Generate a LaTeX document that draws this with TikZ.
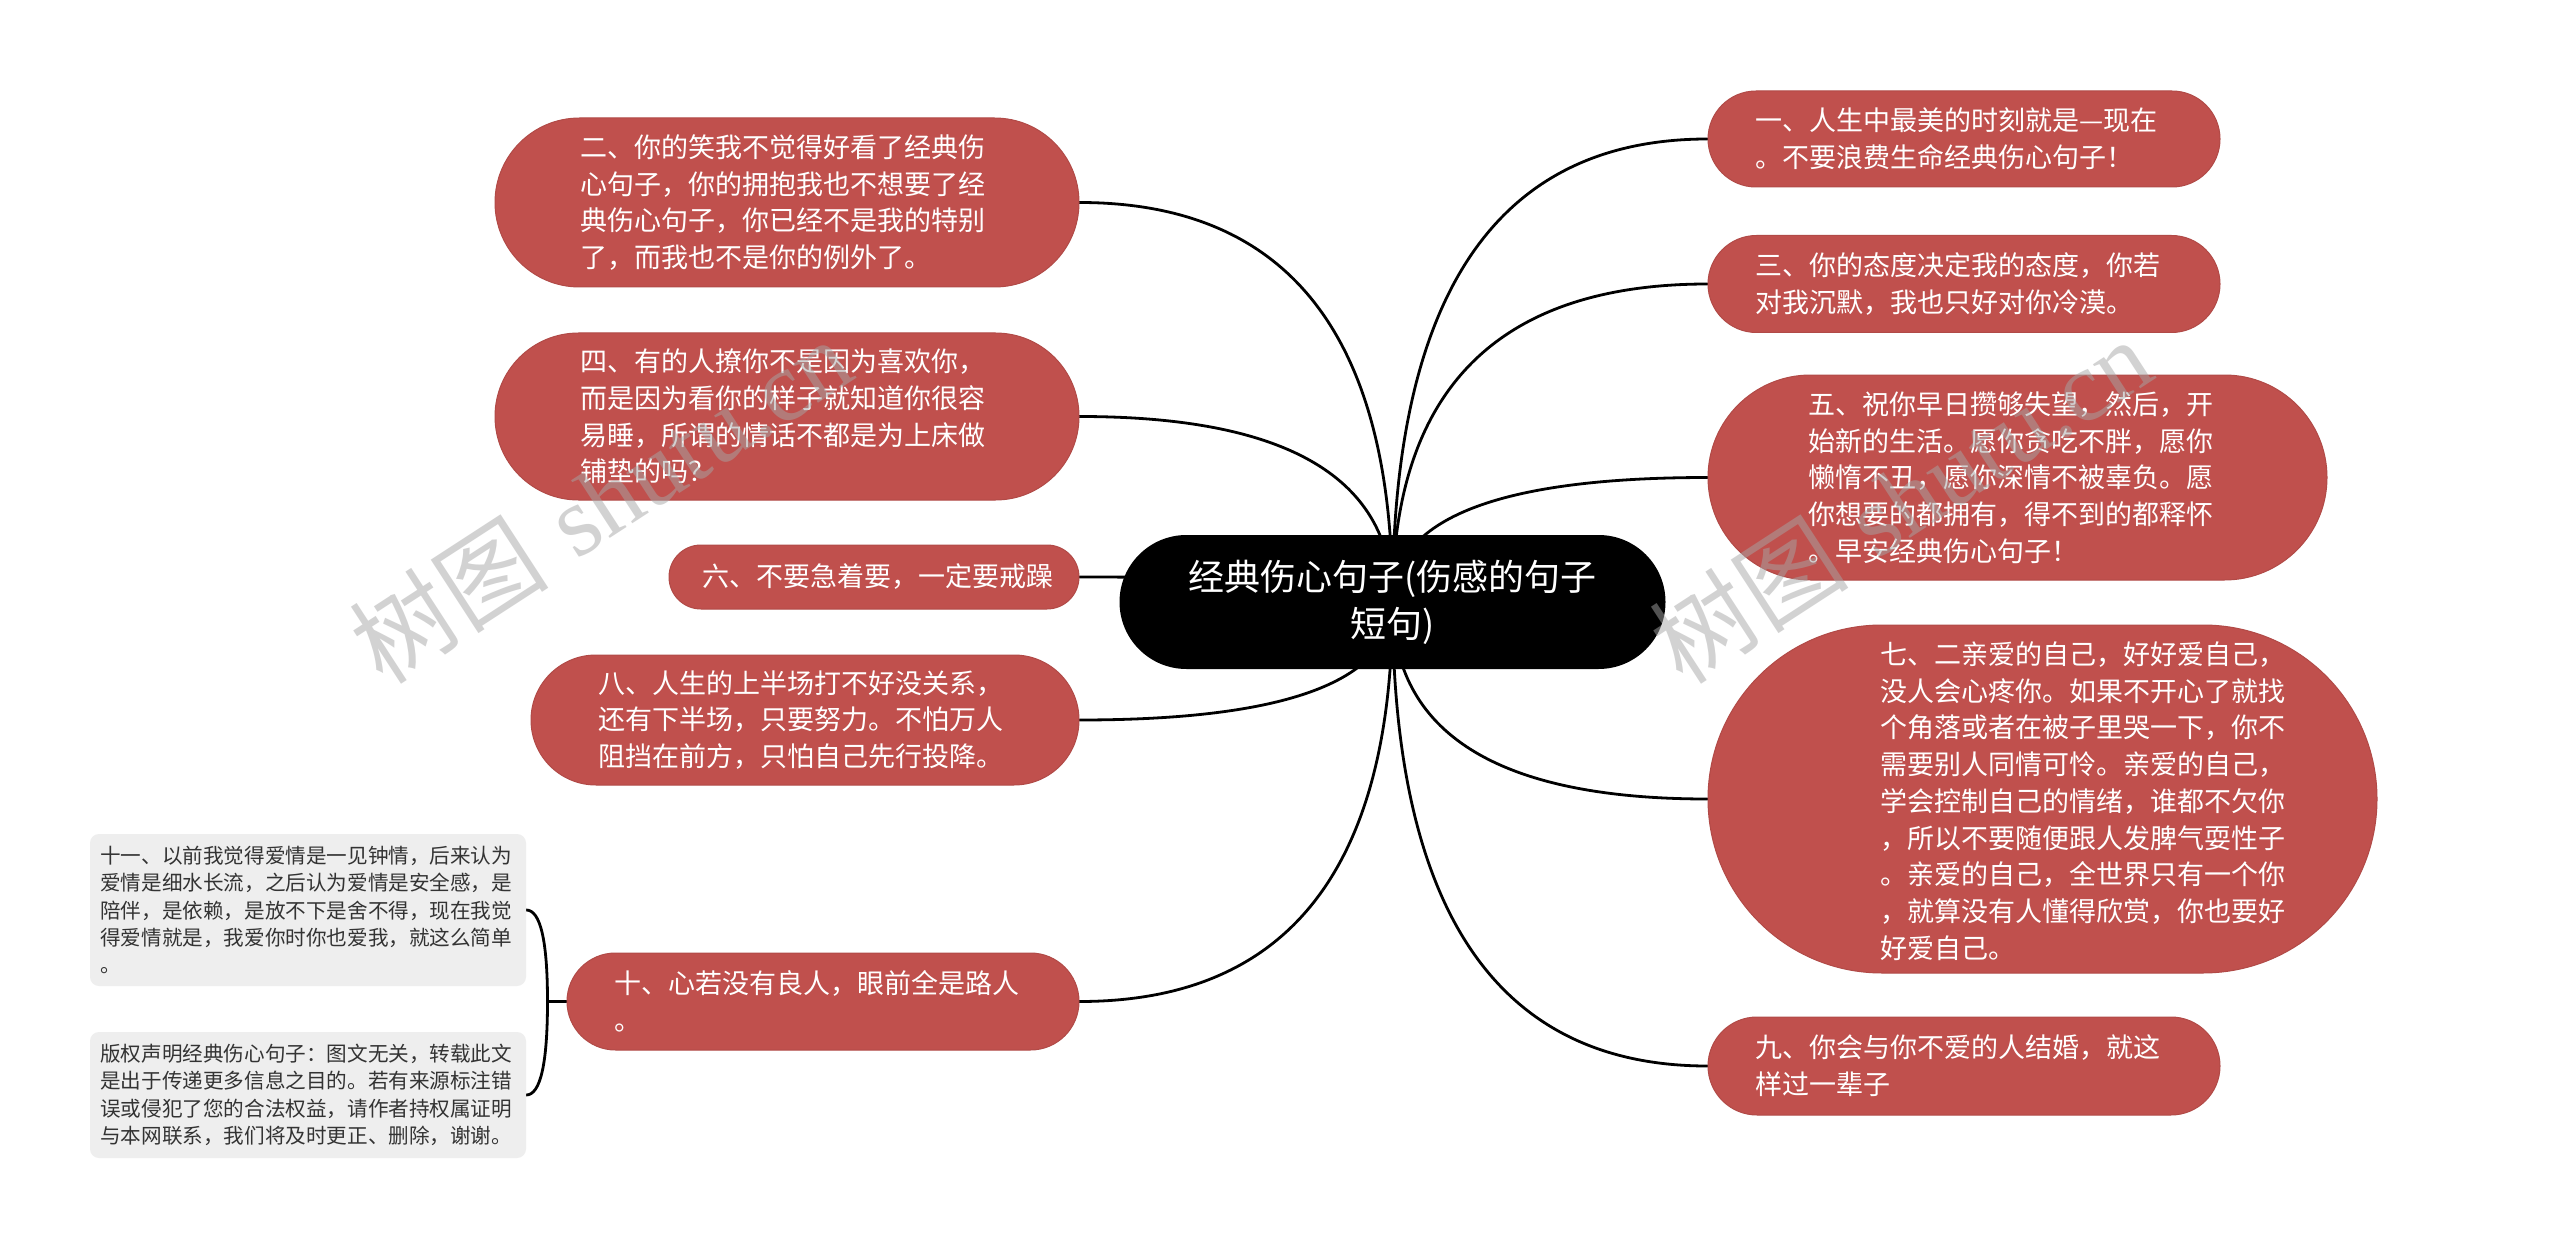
\documentclass[tikz,border=0pt]{standalone}
\usepackage{fontspec}
\newfontfamily\cjk{Noto Sans CJK SC}
\newfontfamily\wmserif{Liberation Serif}
\usetikzlibrary{shapes.misc,calc}
\definecolor{nodered}{HTML}{C0504D}
\definecolor{greybox}{HTML}{EEEEEE}
\definecolor{greytext}{HTML}{333333}
\pgfdeclarelayer{bg}
\pgfdeclarelayer{wm}
\pgfsetlayers{bg,main,wm}
\newcommand\mmlink[2]{%
  \coordinate (mmc) at (#1 |- #2);
  \draw[link] (#1) .. controls ($(#1)!0.6667!(mmc)$) and ($(#2)!0.6667!(mmc)$) .. (#2);}
\begin{document}
\begin{tikzpicture}[x=1pt,y=-1pt,
  redbox/.style={rounded rectangle, fill=nodered, draw=nodered!92!black, line width=1pt, inner sep=0pt},
  rootbox/.style={rounded rectangle, fill=black, inner sep=0pt},
  greyboxst/.style={rectangle, rounded corners=9pt, fill=greybox, inner sep=0pt},
  redtext/.style={text=white, align=left, inner sep=0pt, anchor=west, font=\cjk\fontsize{27}{36.7}\selectfont},
  roottext/.style={text=white, align=center, inner sep=0pt, font=\cjk\fontsize{36}{47}\selectfont},
  greytextst/.style={text=greytext, align=left, inner sep=0pt, anchor=west, font=\cjk\fontsize{20.6}{27.3}\selectfont},
  link/.style={draw=black, line width=2.8pt, line cap=round},
  wmark/.style={text=black!35, text opacity=0.5, inner sep=0pt, font=\fontsize{100}{110}\selectfont}
]
\useasboundingbox (0,0) rectangle (2560,1249);
\begin{pgfonlayer}{bg}
\fill[white] (0,0) rectangle (2560,1249);
\end{pgfonlayer}

% root
\node[rootbox, minimum width=546pt, minimum height=134pt] (root) at (1392.5,602) {};
\node[roottext] (troot) at (root.center) {经典伤心句子(伤感的句子\\短句)};

% left side
\node[redbox, minimum width=584pt, minimum height=169pt] (n2) at (787,202.5) {};
\node[redtext] (t2) at (580,202.5) {二、你的笑我不觉得好看了经典伤\\心句子，你的拥抱我也不想要了经\\典伤心句子，你已经不是我的特别\\了，而我也不是你的例外了。};

\node[redbox, minimum width=584pt, minimum height=167pt] (n4) at (787,416.5) {};
\node[redtext] (t4) at (580,416.5) {四、有的人撩你不是因为喜欢你，\\而是因为看你的样子就知道你很容\\易睡，所谓的情话不都是为上床做\\铺垫的吗？};

\node[redbox, minimum width=410pt, minimum height=64pt] (n6) at (874,577) {};
\node[redtext] (t6) at (702,577) {六、不要急着要，一定要戒躁};

\node[redbox, minimum width=548pt, minimum height=130pt] (n8) at (805,720) {};
\node[redtext] (t8) at (598,720) {八、人生的上半场打不好没关系，\\还有下半场，只要努力。不怕万人\\阻挡在前方，只怕自己先行投降。};

\node[redbox, minimum width=512pt, minimum height=97pt] (n10) at (823,1001.5) {};
\node[redtext] (t10) at (614,1001.5) {十、心若没有良人，眼前全是路人\\。};

% grey boxes
\node[greyboxst, minimum width=436pt, minimum height=152pt] (g11) at (308,910) {};
\node[greytextst] (tg11) at (100,910) {十一、以前我觉得爱情是一见钟情，后来认为\\爱情是细水长流，之后认为爱情是安全感，是\\陪伴，是依赖，是放不下是舍不得，现在我觉\\得爱情就是，我爱你时你也爱我，就这么简单\\。};
\node[greyboxst, minimum width=436pt, minimum height=126pt] (g12) at (308,1095) {};
\node[greytextst] (tg12) at (100,1095) {版权声明经典伤心句子：图文无关，转载此文\\是出于传递更多信息之目的。若有来源标注错\\误或侵犯了您的合法权益，请作者持权属证明\\与本网联系，我们将及时更正、删除，谢谢。};

% right side
\node[redbox, minimum width=512pt, minimum height=96pt] (n1) at (1964,139) {};
\node[redtext] (t1) at (1755,139) {一、人生中最美的时刻就是—现在\\。不要浪费生命经典伤心句子！};

\node[redbox, minimum width=512pt, minimum height=97pt] (n3) at (1964,284) {};
\node[redtext] (t3) at (1755,284) {三、你的态度决定我的态度，你若\\对我沉默，我也只好对你冷漠。};

\node[redbox, minimum width=619pt, minimum height=205pt] (n5) at (2017.5,477.5) {};
\node[redtext] (t5) at (1808,477.5) {五、祝你早日攒够失望，然后，开\\始新的生活。愿你贪吃不胖，愿你\\懒惰不丑，愿你深情不被辜负。愿\\你想要的都拥有，得不到的都释怀\\。早安经典伤心句子！};

\node[redbox, minimum width=669pt, minimum height=348pt] (n7) at (2042.5,799) {};
\node[redtext] (t7) at (1880,801) {七、二亲爱的自己，好好爱自己，\\没人会心疼你。如果不开心了就找\\个角落或者在被子里哭一下，你不\\需要别人同情可怜。亲爱的自己，\\学会控制自己的情绪，谁都不欠你\\，所以不要随便跟人发脾气耍性子\\。亲爱的自己，全世界只有一个你\\，就算没有人懂得欣赏，你也要好\\好爱自己。};

\node[redbox, minimum width=512pt, minimum height=98pt] (n9) at (1964,1066) {};
\node[redtext] (t9) at (1755,1066) {九、你会与你不爱的人结婚，就这\\样过一辈子};

% connectors
\begin{pgfonlayer}{bg}
\mmlink{root.center}{n2.east}
\mmlink{root.center}{n4.east}
\mmlink{root.center}{n6.east}
\mmlink{root.center}{n8.east}
\mmlink{root.center}{n10.east}
\mmlink{root.center}{n1.west}
\mmlink{root.center}{n3.west}
\mmlink{root.center}{n5.west}
\mmlink{root.center}{n7.west}
\mmlink{root.center}{n9.west}
\coordinate (br) at ($(n10.west)+(-19,0)$);
\draw[link] (n10.west) -- (br);
\mmlink{br}{g11.east}
\mmlink{br}{g12.east}
\end{pgfonlayer}

% watermarks
\begin{pgfonlayer}{wm}
\node[wmark, rotate=33] (wmL) at (600,500) {{\cjk 树图} {\wmserif shutu.cn}};
\node[wmark, rotate=33] (wmR) at (1900,500) {{\cjk 树图} {\wmserif shutu.cn}};
\end{pgfonlayer}
\end{tikzpicture}
\end{document}
